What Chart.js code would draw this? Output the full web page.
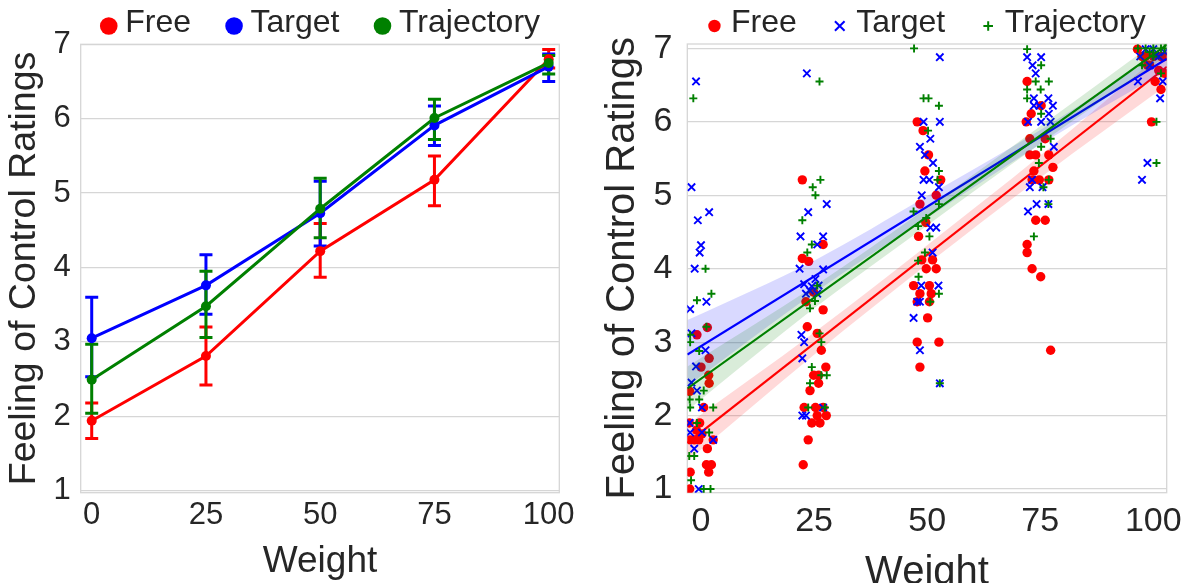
<!DOCTYPE html>
<html>
<head>
<meta charset="utf-8">
<script src="https://cdn.jsdelivr.net/npm/chart.js@4.4.0/dist/chart.umd.min.js"></script>
<style>
body { margin: 0; background: #fff; width: 1194px; height: 583px; overflow: hidden; position: relative; }
canvas { position: absolute; top: 0; }
#meanChart { left: 0; }
#scatterChart { left: 597px; }
</style>
</head>
<body>
<canvas id="meanChart" width="597" height="583"></canvas>
<canvas id="scatterChart" width="597" height="583"></canvas>
<script>
// categories / ticks
var weights = [0, 25, 50, 75, 100];
var ratingTicks = [1, 2, 3, 4, 5, 6, 7];
var seriesNames = ['Free', 'Target', 'Trajectory'];

// left panel: means and 95% CI per weight
var freeMean = [1.94, 2.81, 4.22, 5.18, 6.80];
var freeLow = [1.70, 2.42, 3.87, 4.83, 6.68];
var freeHigh = [2.18, 3.20, 4.59, 5.50, 6.93];
var targetMean = [3.05, 3.76, 4.73, 5.91, 6.70];
var targetLow = [2.53, 3.37, 4.29, 5.64, 6.50];
var targetHigh = [3.60, 4.17, 5.16, 6.17, 6.87];
var trajMean = [2.49, 3.48, 4.79, 6.01, 6.75];
var trajLow = [2.04, 3.06, 4.40, 5.72, 6.60];
var trajHigh = [2.97, 3.95, 5.20, 6.26, 6.85];

// right panel: individual (jittered) ratings, [weight, rating]
var freeRatings = [
  [-2.5,1.0],[-2.4,1.23],[-2.6,1.9],[-2.4,1.67],[-1.5,1.67],[-0.5,1.67],[-0.3,1.9],[-0.9,3.1],[0,2.66],[1.4,3.2],
  [1.8,2.78],[1.7,2.55],[1.8,2.44],[0.6,2.11],[1.2,1.33],[2.3,1.33],[1.7,1.23],[1.4,1.55],[2.7,1.67],[-2.5,2.33],
  [-1.0,1.8],[0.2,1.75],
  [22.4,5.21],[22.6,1.33],[23.7,1.67],[22.4,4.14],[23.8,4.1],[27.0,4.33],[23.2,3.55],[23.5,3.21],[24.9,3.68],[27.0,3.44],
  [25.7,3.12],[26.6,2.89],[27.6,2.66],[26.0,2.55],[24.9,2.55],[26.0,2.44],[24.1,2.34],[22.8,2.11],[25.3,2.11],[27.0,2.11],
  [24.5,1.9],[26.3,1.9],[27.7,2.0],[25.7,2.0],
  [47.8,6.0],[49.1,5.88],[50.3,5.55],[49.5,5.33],[48.4,4.88],[53.0,5.21],[52.0,5.0],[49.7,4.63],[48.1,4.44],[48.8,4.12],
  [51.2,4.12],[49.8,4.0],[52.0,4.0],[47.0,3.77],[50.5,3.77],[48.4,3.66],[50.9,3.66],[47.8,3.55],[50.5,3.55],[50.1,3.33],
  [47.8,3.0],[52.6,3.0],[48.4,2.66],
  [72.1,6.55],[71.9,6.0],[72.7,5.77],[73.0,6.11],[75.2,6.22],[72.7,5.55],[74.0,5.55],[73.6,5.33],[76.9,5.55],[77.8,5.38],
  [73.2,5.21],[74.8,5.21],[76.9,5.21],[76.1,5.77],[74.0,4.66],[76.1,4.66],[72.1,4.33],[72.1,4.22],[73.2,4.0],[75.1,3.89],
  [77.3,2.89],
  [96.5,6.99],[98.3,6.89],[100.0,6.89],[101.7,6.89],[102.5,6.66],[101.7,6.44],[99.6,6.0],[100.4,6.55],[98.7,6.77],[102.5,6.89],
  [97.5,6.89],[99.2,6.77],[101.2,6.7]
];
var targetRatings = [
  [-2.1,5.11],[-1.1,6.55],[-0.7,4.66],[0,4.32],[-0.3,4.22],[-1.4,4.0],[1.2,3.55],[1.8,4.77],[-2.4,3.45],[-2.1,3.12],
  [-1.1,2.67],[1.0,2.89],[-2.1,2.45],[-0.9,2.34],[0.2,2.11],[-2.4,1.77],[-1.5,1.55],[2.7,1.67],[-0.5,1.0],[-2.5,1.9],
  [0.2,1.77],
  [23.4,6.66],[23.7,4.77],[27.8,4.88],[22.0,4.44],[27.0,4.44],[25.7,4.33],[21.8,4.0],[27.0,3.99],[22.8,3.79],[24.5,3.76],
  [25.3,3.86],[23.2,3.66],[26.0,3.77],[22.2,3.1],[22.8,3.0],[22.4,2.78],[23.2,2.0],[22.4,2.0],[27.0,2.11],[25.7,3.66],
  [24.1,3.7],
  [52.8,6.88],[49.2,6.0],[52.8,6.0],[48.4,5.66],[50.7,5.77],[49.5,5.55],[51.3,5.44],[49.2,5.21],[50.5,5.21],[52.6,5.11],
  [48.8,5.0],[48.7,3.77],[52.5,3.77],[47.8,3.55],[48.4,3.55],[47.0,3.33],[48.4,2.89],[51.2,4.22],[52.0,4.56],[52.8,2.44],
  [50.7,4.56],
  [72.1,6.88],[73.3,6.77],[74.0,6.66],[75.2,6.88],[73.6,6.32],[74.8,6.22],[73.6,6.22],[76.8,6.32],[77.8,6.22],[76.9,6.11],
  [75.2,6.0],[77.3,6.0],[72.3,6.0],[78.0,5.66],[73.2,5.21],[72.7,5.11],[75.5,5.11],[74.2,4.88],[76.8,4.88],[72.3,4.78],
  [97.5,5.21],[98.7,5.44],[97.1,6.89],[98.3,6.99],[100,6.99],[101.2,6.89],[101.5,6.32],[102.1,6.55],[99.2,6.77],[96.6,6.55],
  [100.5,6.9],[102.5,6.95]
];
var trajRatings = [
  [-1.7,6.32],[1.0,4.0],[2.3,3.66],[-0.9,3.57],[-2.4,3.0],[1.2,3.21],[-0.4,2.88],[0.6,2.34],[-0.4,2.22],[-2.5,2.22],
  [2.7,2.11],[-2.4,2.11],[-1.5,1.45],[-2.2,1.12],[0.6,1.0],[2.1,1.0],[1.8,1.77],[-0.9,1.9],[-2.6,1.45],[-2.4,3.1],
  [26.2,6.55],[26.4,5.21],[24.7,5.11],[25.3,5.0],[22.4,4.66],[23.5,4.22],[24.5,4.33],[25.7,3.77],[24.1,3.46],[25.2,3.56],
  [26.2,3.12],[26.6,3.0],[24.5,2.66],[27.8,2.55],[26.6,2.55],[24.1,2.44],[23.7,2.11],[27.4,2.11],
  [47.1,7.0],[49.2,6.32],[50.3,6.32],[52.6,6.22],[50.2,5.88],[52.6,5.33],[52.3,5.21],[47.0,4.78],[52.6,4.88],[48.0,4.58],
  [49.8,4.69],[50.5,4.44],[48.0,4.11],[49.5,4.22],[48.1,3.89],[50.7,3.55],[52.6,3.66],[52.8,2.44],
  [72.1,6.99],[75.2,6.77],[76.9,6.55],[74.0,6.55],[72.1,6.44],[75.1,6.44],[72.1,6.32],[75.2,6.11],[77.3,5.77],[75.2,5.66],
  [74.7,5.44],[76.9,5.21],[76.8,4.88],[73.6,4.44],[75.7,5.11],
  [100.7,5.44],[100.7,6.0],[96.6,7.0],[98.3,7.0],[100,7.0],[101.7,7.0],[102.5,7.0],[100,6.89],[97.5,6.77],[101.7,6.66],
  [99.2,6.95]
];

// right panel: regression lines (ends) and confidence bands
var fitEnds = [-3, 103];
var freeFit = [1.63, 6.75];
var targetFit = [2.83, 6.86];
var trajFit = [2.37, 7.05];
var bandX = [-3, 25, 50, 75, 103];
var freeBandLow = [1.38, 2.83, 4.06, 5.24, 6.50];
var freeBandHigh = [1.88, 3.13, 4.32, 5.54, 7.00];
var targetBandLow = [2.40, 3.67, 4.69, 5.69, 6.70];
var targetBandHigh = [3.30, 4.11, 4.99, 5.89, 7.00];
var trajBandLow = [2.07, 3.46, 4.59, 5.70, 6.90];
var trajBandHigh = [2.67, 3.76, 4.83, 5.94, 7.20];

var RED = '#ff0000', BLUE = '#0000ff', GREEN = '#008000';
var TEXT = '#262626', GRID = '#d6d6d6';
var FONT = '"Liberation Sans", Arial, sans-serif';

Chart.defaults.font.family = FONT;
Chart.defaults.color = TEXT;

function xy(xs, ys) {
    return xs.map(function(x, i) { return {x: x, y: ys[i]}; });
}
function pairs(list) {
    return list.map(function(p) { return {x: p[0], y: p[1]}; });
}

// box round the plot area
var frame = {
    id: 'frame',
    beforeDatasetsDraw: function(chart) {
        var a = chart.chartArea, ctx = chart.ctx;
        ctx.save();
        ctx.strokeStyle = GRID;
        ctx.lineWidth = 1.3;
        ctx.strokeRect(a.left, a.top, a.right - a.left, a.bottom - a.top);
        ctx.restore();
    }
};

// legend row above the plot
var topLegend = {
    id: 'topLegend',
    afterDraw: function(chart, args, opts) {
        var ctx = chart.ctx, a = chart.chartArea;
        ctx.save();
        ctx.font = opts.fontSize + 'px ' + FONT;
        var widths = opts.items.map(function(it) { return ctx.measureText(it.text).width; });
        var total = opts.markerR;
        widths.forEach(function(w, i) {
            total += opts.textGap + w + (i < widths.length - 1 ? opts.itemGap : 0);
        });
        var x = (a.left + a.right) / 2 - total / 2 + opts.markerR;
        opts.items.forEach(function(it, i) {
            ctx.fillStyle = it.color;
            ctx.strokeStyle = it.color;
            ctx.lineWidth = 2;
            Chart.helpers.drawPoint(ctx, {
                pointStyle: it.style, radius: it.r, borderWidth: it.style === 'circle' ? 0 : 2, rotation: 0
            }, x, opts.markerY);
            ctx.fillStyle = TEXT;
            ctx.textBaseline = 'middle';
            ctx.textAlign = 'left';
            ctx.fillText(it.text, x + opts.textGap, opts.textY);
            x += opts.textGap + widths[i] + opts.itemGap;
        });
        ctx.restore();
    }
};

// CI whiskers with caps (drawn under the lines)
var errorBars = {
    id: 'errorBars',
    beforeDatasetsDraw: function(chart, args, opts) {
        var ctx = chart.ctx, xs = chart.scales.x, ys = chart.scales.y;
        ctx.save();
        ctx.lineWidth = 3;
        opts.series.forEach(function(s) {
            ctx.strokeStyle = s.color;
            weights.forEach(function(w, i) {
                var px = xs.getPixelForValue(w);
                var lo = ys.getPixelForValue(s.low[i]);
                var hi = ys.getPixelForValue(s.high[i]);
                ctx.beginPath();
                ctx.moveTo(px, lo); ctx.lineTo(px, hi);
                ctx.moveTo(px - 6.5, lo); ctx.lineTo(px + 6.5, lo);
                ctx.moveTo(px - 6.5, hi); ctx.lineTo(px + 6.5, hi);
                ctx.stroke();
            });
        });
        ctx.restore();
    }
};

function setTicks(values) {
    return function(scale) {
        scale.ticks = values.map(function(v) { return {value: v}; });
    };
}

// Left: mean ratings with CI
function meanLine(label, means, color, order) {
    return {
        label: label, data: xy(weights, means), borderColor: color, backgroundColor: color,
        borderWidth: 3, pointRadius: 5, pointBorderWidth: 0, pointBackgroundColor: color,
        tension: 0, fill: false, order: order
    };
}

new Chart(document.getElementById('meanChart').getContext('2d'), {
    type: 'line',
    data: {
        datasets: [
            meanLine(seriesNames[0], freeMean, RED, 3),
            meanLine(seriesNames[1], targetMean, BLUE, 2),
            meanLine(seriesNames[2], trajMean, GREEN, 1)
        ]
    },
    options: {
        responsive: false,
        animation: false,
        devicePixelRatio: 1,
        layout: { padding: { top: 44.3, right: 37.7, left: 0, bottom: 0 } },
        plugins: {
            legend: { display: false },
            tooltip: { enabled: false },
            topLegend: {
                fontSize: 32, markerR: 8.8, textGap: 16.5, itemGap: 43, markerY: 26, textY: 23,
                items: [
                    { text: seriesNames[0], color: RED, style: 'circle', r: 8.8 },
                    { text: seriesNames[1], color: BLUE, style: 'circle', r: 8.8 },
                    { text: seriesNames[2], color: GREEN, style: 'circle', r: 8.8 }
                ]
            },
            errorBars: {
                series: [
                    { low: freeLow, high: freeHigh, color: RED },
                    { low: targetLow, high: targetHigh, color: BLUE },
                    { low: trajLow, high: trajHigh, color: GREEN }
                ]
            }
        },
        scales: {
            x: {
                type: 'linear', min: -2.41, max: 102.32,
                afterBuildTicks: setTicks(weights),
                afterFit: function(s) { s.height = 90.3; },
                grid: { display: false, drawTicks: false },
                border: { display: false },
                ticks: { font: { size: 31 }, color: TEXT, padding: 4, maxRotation: 0 },
                title: { display: true, text: 'Weight', font: { size: 37 }, color: TEXT, padding: { top: 0, bottom: -1 } }
            },
            y: {
                type: 'linear', min: 0.973, max: 7,
                afterBuildTicks: setTicks(ratingTicks),
                afterFit: function(s) { s.width = 80.7; },
                grid: { color: GRID, lineWidth: 1.3, drawTicks: false },
                border: { display: false },
                ticks: { font: { size: 31 }, color: TEXT, padding: 10 },
                title: { display: true, text: 'Feeling of Control Ratings', font: { size: 37.5 }, color: TEXT, padding: { top: 2, bottom: 0 } }
            }
        }
    },
    plugins: [frame, errorBars, topLegend]
});

// Right: individual ratings with regression fits
function ratingPoints(label, list, color, style, r, order) {
    return {
        type: 'scatter', label: label, data: pairs(list), pointStyle: style, pointRadius: r,
        backgroundColor: color, borderColor: color, pointBorderWidth: style === 'circle' ? 0 : 1.9,
        order: order
    };
}
function bandEdge(ys, color, fill, order) {
    return {
        type: 'line', data: xy(bandX, ys), showLine: true, borderColor: 'transparent', borderWidth: 1,
        pointRadius: 0, backgroundColor: color, fill: fill, cubicInterpolationMode: 'monotone', order: order
    };
}
function fitLine(ys, color, order) {
    return {
        type: 'line', data: xy(fitEnds, ys), showLine: true, borderColor: color, borderWidth: 2.2,
        pointRadius: 0, fill: false, order: order
    };
}

new Chart(document.getElementById('scatterChart').getContext('2d'), {
    type: 'scatter',
    data: {
        datasets: [
            ratingPoints(seriesNames[0], freeRatings, RED, 'circle', 4.7, 9),
            bandEdge(freeBandHigh, 'rgba(255,0,0,0.15)', '+1', 8),
            bandEdge(freeBandLow, 'rgba(255,0,0,0.15)', false, 8),
            fitLine(freeFit, RED, 7),
            ratingPoints(seriesNames[1], targetRatings, BLUE, 'crossRot', 5.2, 6),
            bandEdge(targetBandHigh, 'rgba(0,0,255,0.15)', '+1', 5),
            bandEdge(targetBandLow, 'rgba(0,0,255,0.15)', false, 5),
            fitLine(targetFit, BLUE, 4),
            ratingPoints(seriesNames[2], trajRatings, GREEN, 'cross', 4, 3),
            bandEdge(trajBandHigh, 'rgba(0,128,0,0.15)', '+1', 2),
            bandEdge(trajBandLow, 'rgba(0,128,0,0.15)', false, 2),
            fitLine(trajFit, GREEN, 1)
        ]
    },
    options: {
        responsive: false,
        animation: false,
        devicePixelRatio: 1,
        layout: { padding: { top: 44, right: 27.3, left: 0, bottom: 0 } },
        plugins: {
            legend: { display: false },
            tooltip: { enabled: false },
            topLegend: {
                fontSize: 32, markerR: 6.2, textGap: 16.5, itemGap: 43, markerY: 26, textY: 23,
                items: [
                    { text: seriesNames[0], color: RED, style: 'circle', r: 6.2 },
                    { text: seriesNames[1], color: BLUE, style: 'crossRot', r: 6.8 },
                    { text: seriesNames[2], color: GREEN, style: 'cross', r: 4.8 }
                ]
            }
        },
        scales: {
            x: {
                type: 'linear', min: -3.03, max: 102.96,
                afterBuildTicks: setTicks(weights),
                afterFit: function(s) { s.height = 90.3; },
                grid: { display: false, drawTicks: false },
                border: { display: false },
                ticks: { font: { size: 34 }, color: TEXT, padding: 9, maxRotation: 0 },
                title: { display: true, text: 'Weight', font: { size: 40 }, color: TEXT, padding: { top: 0, bottom: -14 } }
            },
            y: {
                type: 'linear', min: 0.95, max: 7.06,
                afterBuildTicks: setTicks(ratingTicks),
                afterFit: function(s) { s.width = 90.3; },
                grid: { color: GRID, lineWidth: 1.3, drawTicks: false },
                border: { display: false },
                ticks: { font: { size: 34 }, color: TEXT, padding: 15 },
                title: { display: true, text: 'Feeling of Control Ratings', font: { size: 40 }, color: TEXT, padding: { top: 2, bottom: 0 } }
            }
        }
    },
    plugins: [frame, topLegend]
});
</script>
</body>
</html>
